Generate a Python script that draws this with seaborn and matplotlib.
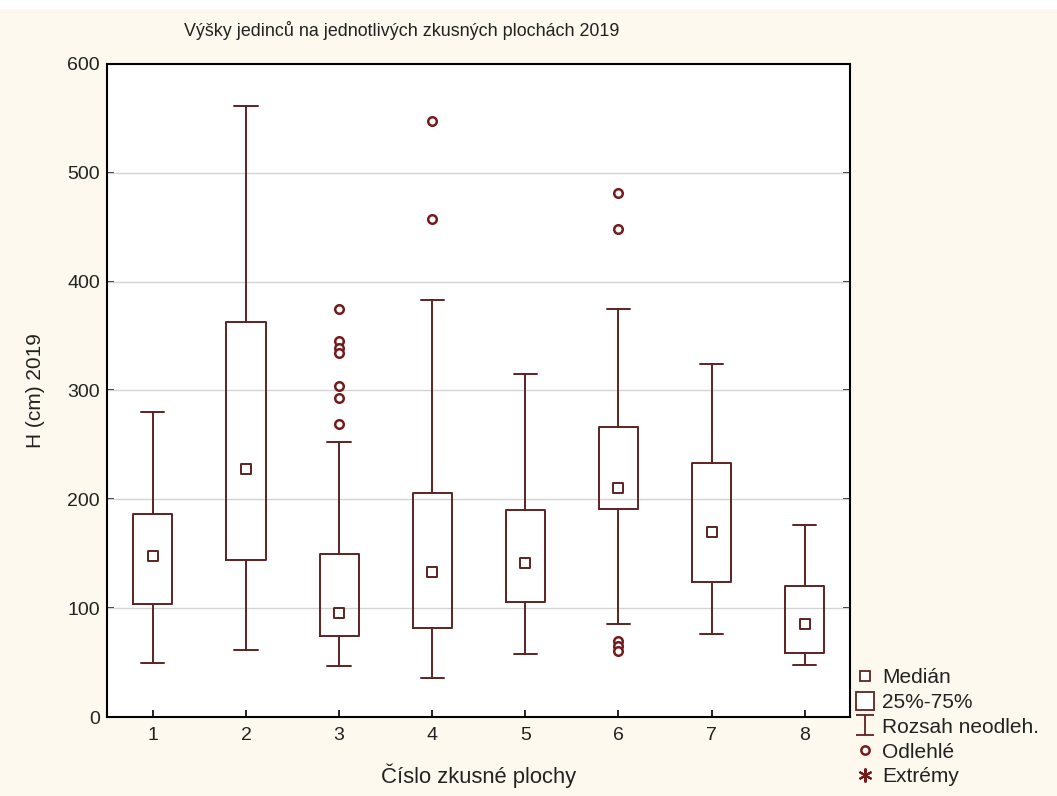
import matplotlib
matplotlib.use("Agg")
import matplotlib.pyplot as plt
import seaborn as sns
import pandas as pd
from matplotlib.lines import Line2D
from matplotlib.path import Path
from matplotlib.patches import Rectangle

# ---- data ----
plots = [1, 2, 3, 4, 5, 6, 7, 8]
medians = [148, 228, 96, 133, 142, 210, 170, 86]
q1 = [104, 144, 75, 82, 106, 191, 124, 59]
q3 = [187, 363, 150, 206, 190, 266, 233, 120]
whislo = [50, 62, 47, 36, 58, 86, 76, 48]
whishi = [280, 561, 253, 383, 315, 375, 324, 176]
outlier_plot = [3, 3, 3, 3, 3, 3, 3, 4, 4, 6, 6, 6, 6, 6]
outlier_value = [375, 345, 339, 334, 304, 293, 269, 547, 457, 481, 448, 70, 65, 61]

title = "Výšky jedinců na jednotlivých zkusných plochách 2019"
xlabel = "Číslo zkusné plochy"
ylabel = "H (cm) 2019"
legend_labels = ["Medián", "25%-75%", "Rozsah neodleh.", "Odlehlé", "Extrémy"]

# ---- style ----
sns.set_theme(style="white")
plt.rcParams["font.family"] = ["Liberation Sans", "DejaVu Sans"]
LINE = "#5e2323"
OUT = "#741b1b"
BG = "#fdf9ef"

fig = plt.figure(figsize=(10.57, 7.96), dpi=100, facecolor=BG)
fig.patches.append(Rectangle((0, 1 - 9 / 796), 1, 9 / 796, transform=fig.transFigure,
                             facecolor="white", edgecolor="none", zorder=-1))
ax = fig.add_axes([0.101, 0.099, 0.703, 0.821])
ax.set_facecolor("white")

stats = []
for i in range(len(plots)):
    stats.append(dict(med=medians[i], q1=q1[i], q3=q3[i],
                      whislo=whislo[i], whishi=whishi[i], fliers=[]))

ax.bxp(stats, positions=plots, widths=0.42, capwidths=0.25, showfliers=False,
       boxprops=dict(color=LINE, linewidth=1.4),
       whiskerprops=dict(color=LINE, linewidth=1.4),
       capprops=dict(color=LINE, linewidth=1.4),
       medianprops=dict(linewidth=0, alpha=0),
       manage_ticks=False, zorder=3)

med_df = pd.DataFrame({"plot": plots, "median": medians})
sns.scatterplot(data=med_df, x="plot", y="median", marker="s", s=55,
                facecolor="white", edgecolor=LINE, linewidth=1.4, ax=ax, zorder=4)

out_df = pd.DataFrame({"plot": outlier_plot, "value": outlier_value})
sns.scatterplot(data=out_df, x="plot", y="value", marker="o", s=38,
                facecolor="white", edgecolor=OUT, linewidth=1.8, ax=ax, zorder=4)

ax.set_xlim(0.505, 8.485)
ax.set_ylim(0, 600)
ax.set_xticks(plots)
ax.set_xticklabels([str(p) for p in plots])
ax.set_yticks(range(0, 601, 100))
for y in range(100, 600, 100):
    ax.axhline(y, color="#d3d3d3", linewidth=1.0, zorder=1)

ax.tick_params(axis="both", direction="in", length=5, width=1.2, labelsize=14,
               labelcolor="#222222", color="black", pad=7)
ax.tick_params(axis="y", right=True, left=True, pad=5)
ax.tick_params(axis="x", bottom=True, top=False)
for sp in ax.spines.values():
    sp.set_color("black")
    sp.set_linewidth(1.5)

ax.set_xlabel(xlabel, fontsize=15.8, color="#222222", labelpad=14)
ax.set_ylabel(ylabel, fontsize=15, color="#222222", labelpad=16)
fig.text(402 / 1057, 1 - 31 / 796, title, fontsize=12.9, color="#222222",
         ha="center", va="center")

# ---- legend ----
whisk_marker = Path([(-0.42, 0.5), (0.42, 0.5), (0, 0.5), (0, -0.5), (-0.42, -0.5), (0.42, -0.5)],
                    [Path.MOVETO, Path.LINETO, Path.MOVETO, Path.LINETO, Path.MOVETO, Path.LINETO])
handles = [
    Line2D([], [], linestyle="none", marker="s", markersize=7, markerfacecolor="white",
           markeredgecolor=LINE, markeredgewidth=1.3),
    Line2D([], [], linestyle="none", marker="s", markersize=12.5, markerfacecolor="white",
           markeredgecolor=LINE, markeredgewidth=1.3),
    Line2D([], [], linestyle="none", marker=whisk_marker, markersize=15,
           markeredgecolor=LINE, markeredgewidth=1.3),
    Line2D([], [], linestyle="none", marker="o", markersize=6, markerfacecolor="white",
           markeredgecolor=OUT, markeredgewidth=1.8),
    Line2D([], [], linestyle="none", marker=(6, 2, 0), markersize=10,
           markeredgecolor=OUT, markeredgewidth=1.5),
]
fig.legend(handles, legend_labels, loc="upper left",
           bbox_to_anchor=(856 / 1057, 1 - 668 / 796), frameon=False, fontsize=15,
           handlelength=0.9, handletextpad=0.35, labelspacing=0.28, borderpad=0,
           borderaxespad=0, labelcolor="#222222")

fig.savefig("out.png", dpi=100, facecolor=BG)
